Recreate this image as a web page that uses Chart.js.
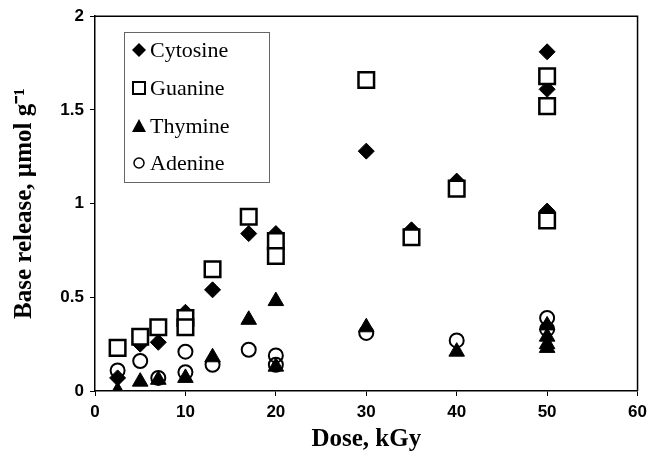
<!DOCTYPE html>
<html>
<head>
<meta charset="utf-8">
<script src="https://cdn.jsdelivr.net/npm/chart.js@4"></script>
<style>
  html, body { margin: 0; padding: 0; background: #fff; }
  #wrap { position: relative; width: 653px; height: 467px; }
</style>
</head>
<body>
<div id="wrap"><canvas id="chart" width="653" height="467"></canvas></div>
<script>
// Base release vs dose — four bases, scatter
var cytosineX = [2.5, 5, 7, 10, 13, 17, 20, 30, 35, 40, 50, 50, 50];
var cytosineY = [0.07, 0.25, 0.26, 0.42, 0.54, 0.84, 0.84, 1.28, 0.86, 1.12, 1.81, 1.61, 0.96];

var guanineX = [2.5, 5, 7, 10, 10, 13, 17, 20, 20, 30, 35, 40, 50, 50, 50];
var guanineY = [0.23, 0.29, 0.34, 0.39, 0.34, 0.65, 0.93, 0.80, 0.72, 1.66, 0.82, 1.08, 1.68, 1.52, 0.91];

var thymineX = [2.5, 5, 7, 10, 13, 17, 20, 20, 30, 40, 50, 50, 50, 50];
var thymineY = [0.0, 0.05, 0.06, 0.07, 0.18, 0.38, 0.48, 0.13, 0.34, 0.21, 0.35, 0.29, 0.25, 0.23];

var adenineX = [2.5, 5, 7, 10, 10, 13, 17, 20, 20, 30, 40, 50, 50];
var adenineY = [0.11, 0.16, 0.07, 0.21, 0.10, 0.14, 0.22, 0.19, 0.14, 0.31, 0.27, 0.39, 0.33];

var xTicks = [0, 10, 20, 30, 40, 50, 60];
var yTicks = [0, 0.5, 1, 1.5, 2];

function pairs(xs, ys) {
  return xs.map(function (x, i) { return { x: x, y: ys[i] }; });
}

var series = [
  { label: "Cytosine", data: pairs(cytosineX, cytosineY), pointStyle: "rectRot", radius: 8, bg: "#000", order: 4 },
  { label: "Guanine", data: pairs(guanineX, guanineY), pointStyle: "rect", radius: 11, bg: "#fff", order: 3 },
  { label: "Thymine", data: pairs(thymineX, thymineY), pointStyle: "triangle", radius: 9, bg: "#000", order: 2 },
  { label: "Adenine", data: pairs(adenineX, adenineY), pointStyle: "circle", radius: 7, bg: "rgba(255,255,255,0)", order: 1 }
];

// frame + legend drawn inside the plot area
var framePlugin = {
  id: "frame",
  afterDraw: function (chart) {
    var ctx = chart.ctx, a = chart.chartArea;
    ctx.save();
    ctx.strokeStyle = "#000";
    ctx.lineWidth = 1.5;
    ctx.beginPath();
    ctx.moveTo(a.left, a.top);
    ctx.lineTo(a.right, a.top);
    ctx.lineTo(a.right, a.bottom);
    ctx.stroke();

    // legend box
    ctx.lineWidth = 1;
    ctx.strokeStyle = "#666";
    ctx.strokeRect(124.5, 32.5, 145, 150);
    ctx.font = "22px 'Liberation Serif', 'Times New Roman', serif";
    ctx.fillStyle = "#000";
    ctx.textBaseline = "middle";
    var rows = [50, 88, 126, 163];
    series.forEach(function (s, i) {
      var cx = 139, cy = rows[i];
      ctx.beginPath();
      ctx.lineWidth = 2;
      ctx.strokeStyle = "#000";
      if (s.pointStyle === "rectRot") {
        ctx.moveTo(cx, cy - 7); ctx.lineTo(cx + 7, cy); ctx.lineTo(cx, cy + 7); ctx.lineTo(cx - 7, cy);
        ctx.closePath(); ctx.fill();
      } else if (s.pointStyle === "rect") {
        ctx.rect(cx - 6, cy - 6, 12, 12); ctx.stroke();
      } else if (s.pointStyle === "triangle") {
        ctx.moveTo(cx, cy - 7); ctx.lineTo(cx + 7, cy + 6); ctx.lineTo(cx - 7, cy + 6);
        ctx.closePath(); ctx.fill();
      } else {
        ctx.lineWidth = 1.5;
        ctx.arc(cx, cy, 5, 0, Math.PI * 2); ctx.stroke();
      }
      ctx.fillText(s.label, 150, cy + 1);
    });
    ctx.restore();
  }
};

var tickFont = { family: "'Liberation Sans', Arial, sans-serif", size: 17, weight: "bold" };
var titleFont = { family: "'Liberation Serif', 'Times New Roman', serif", size: 25, weight: "bold" };

new Chart(document.getElementById("chart").getContext("2d"), {
  type: "scatter",
  data: {
    datasets: series.map(function (s) {
      return {
        label: s.label,
        data: s.data,
        order: s.order,
        pointStyle: s.pointStyle,
        pointRadius: s.radius,
        pointHoverRadius: s.radius,
        pointBackgroundColor: s.bg,
        pointBorderColor: "#000",
        pointBorderWidth: s.pointStyle === "rect" ? 2.5 : (s.pointStyle === "circle" ? 2 : 1)
      };
    })
  },
  options: {
    responsive: false,
    animation: false,
    layout: { padding: { top: 15, right: 12, left: 6, bottom: 8 } },
    plugins: {
      legend: { display: false },
      tooltip: { enabled: false }
    },
    scales: {
      x: {
        type: "linear",
        min: 0,
        max: 60,
        afterBuildTicks: function (scale) {
          scale.ticks = xTicks.map(function (v) { return { value: v }; });
        },
        grid: { drawOnChartArea: false, drawTicks: true, tickLength: 5, color: "#000" },
        border: { display: true, color: "#000", width: 1.5 },
        ticks: { color: "#000", font: tickFont, padding: 6, callback: function (v) { return String(v); } },
        title: { display: true, text: "Dose, kGy", color: "#000", font: titleFont, padding: { top: 4 } },
        afterFit: function (scale) { scale.height = 68; }
      },
      y: {
        type: "linear",
        min: 0,
        max: 2,
        afterBuildTicks: function (scale) {
          scale.ticks = yTicks.map(function (v) { return { value: v }; });
        },
        grid: { drawOnChartArea: false, drawTicks: true, tickLength: 5, color: "#000" },
        border: { display: true, color: "#000", width: 1.5 },
        ticks: { color: "#000", font: tickFont, padding: 6, callback: function (v) { return String(v); } },
        title: { display: true, text: "Base release, \u00b5mol g\u207b\u00b9", color: "#000", font: titleFont, padding: { bottom: 4 } },
        afterFit: function (scale) { scale.width = 89; }
      }
    }
  },
  plugins: [framePlugin]
});
</script>
</body>
</html>
